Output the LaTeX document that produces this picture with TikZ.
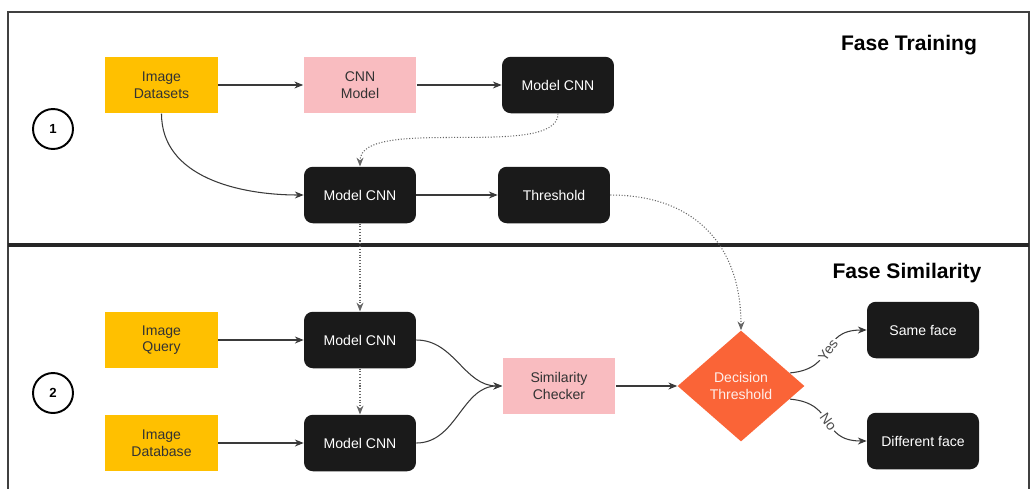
\documentclass[tikz,border=0pt]{standalone}
\usepackage{fontspec}
\setmainfont{Liberation Sans}
\usetikzlibrary{shapes.geometric,arrows.meta}
\definecolor{imgyellow}{HTML}{FFC000}
\definecolor{cnnpink}{HTML}{F9BCC0}
\definecolor{boxblack}{HTML}{1A1A1A}
\definecolor{decorange}{HTML}{FA6437}
\definecolor{lineg}{HTML}{3A3A3A}
\begin{document}
\begin{tikzpicture}[x=0.02cm,y=0.02cm,
  every node/.style={font=\fontsize{8}{9.5}\selectfont,align=center,inner sep=0pt},
  imgbox/.style={fill=imgyellow,minimum width=2.26cm,minimum height=1.13cm,text=black!80},
  pinkbox/.style={fill=cnnpink,minimum width=2.26cm,minimum height=1.13cm,text=black!80},
  modelbox/.style={fill=boxblack,rounded corners=5pt,minimum width=2.24cm,minimum height=1.13cm,text=white},
  decision/.style={diamond,fill=decorange,minimum width=2.54cm,minimum height=2.22cm,text=white!90!decorange},
  stepnum/.style={circle,draw,line width=1.1pt,minimum size=0.8cm,font=\bfseries\fontsize{7.5}{9}\selectfont},
  phase/.style={font=\bfseries\fontsize{12}{14}\selectfont},
  arr/.style={-{Stealth[length=5pt,width=4pt]},draw=lineg,line width=0.6pt},
  dotarr/.style={-{Stealth[length=5pt,width=4pt]},draw=black!60,densely dotted,line width=0.6pt},
  lbl/.style={sloped,fill=white,inner sep=1pt,text=black!70}]
\useasboundingbox (0,0) rectangle (1031,-488);
\draw[line width=1pt,draw=black!75] (8,-490) -- (8,-12) -- (1029,-12) -- (1029,-490);
\draw[line width=2.2pt,draw=black!85] (8,-245) -- (1029,-245);
\node[phase] (T1) at (909,-45) {Fase Training};
\node[phase] (T2) at (907,-273) {Fase Similarity};
\node[stepnum] (S1) at (53,-129) {1};
\node[stepnum] (S2) at (53,-393) {2};
\node[imgbox] (DS) at (161.5,-85) {Image\\Datasets};
\node[pinkbox] (CNN) at (360,-85) {CNN\\Model};
\node[modelbox] (M1) at (558,-85) {Model CNN};
\node[modelbox] (M2) at (360,-195) {Model CNN};
\node[modelbox] (TH) at (554,-195) {Threshold};
\node[imgbox] (Q) at (161.5,-340) {Image\\Query};
\node[modelbox] (M3) at (360,-340) {Model CNN};
\node[imgbox] (DB) at (161.5,-443) {Image\\Database};
\node[modelbox] (M4) at (360,-443) {Model CNN};
\node[pinkbox] (SC) at (559,-386) {Similarity\\Checker};
\node[decision] (DT) at (741,-386) {Decision\\Threshold};
\node[modelbox] (SF) at (923,-330) {Same face};
\node[modelbox] (DF) at (923,-441) {Different face};
\draw[arr] (DS) -- (CNN);
\draw[arr] (CNN) -- (M1);
\draw[dotarr] (M1.south) .. controls +(0,-47) and +(0,52) .. (M2.north);
\draw[arr] (DS.south) to[out=-90,in=180] (M2.west);
\draw[arr] (M2) -- (TH);
\draw[dotarr] (TH.east) to[out=0,in=90,looseness=1.15] (DT.north);
\draw[dotarr] (M2) -- (M3);
\draw[dotarr] (M3) -- (M4);
\draw[arr] (Q) -- (M3);
\draw[arr] (DB) -- (M4);
\draw[arr] (M3.east) to[out=0,in=180] (SC.west);
\draw[arr] (M4.east) to[out=0,in=180] (SC.west);
\draw[arr] (SC) -- (DT);
\draw[arr] (DT.15) to[out=5,in=180,looseness=1.4] node[lbl] {Yes} (SF.west);
\draw[arr] (DT.-15) to[out=-5,in=180,looseness=1.4] node[lbl] {No} (DF.west);
\end{tikzpicture}
\end{document}
